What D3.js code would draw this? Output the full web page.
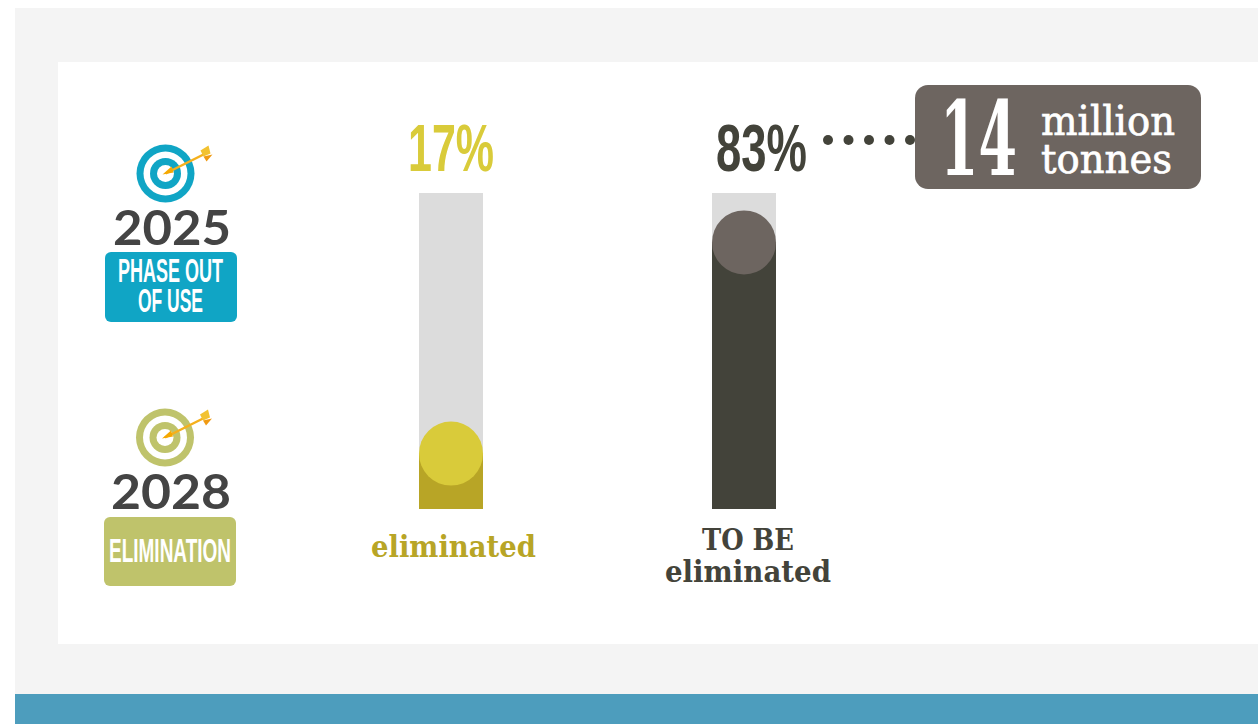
<!DOCTYPE html>
<html>
<head>
<meta charset="utf-8">
<script src="https://cdn.jsdelivr.net/npm/d3@7"></script>
<style>
  html, body { margin: 0; padding: 0; background: #fff; overflow: hidden; }
  svg { display: block; }
</style>
</head>
<body>
<script>
var categories = ["eliminated", "TO BE eliminated"];
var shares = [17, 83];
var shareLabels = ["17%", "83%"];
var targetYears = ["2025", "2028"];
var targetActions = [["PHASE OUT", "OF USE"], ["ELIMINATION"]];
var calloutValue = "14";
var calloutUnit = ["million", "tonnes"];

var narrow = "'Liberation Sans Narrow', 'Liberation Sans', sans-serif";
var slab = "'DejaVu Serif', serif";

var fillColors = ["#b8a526", "#43433a"];
var knobColors = ["#d9cb3a", "#6d6560"];
var targetColors = ["#10a5c5", "#bfc36b"];

var svg = d3.select("body").append("svg")
  .attr("width", 1258)
  .attr("height", 724);

// page panels
svg.append("rect").attr("x", 15).attr("y", 8).attr("width", 1243).attr("height", 686).attr("fill", "#f4f4f4");
svg.append("rect").attr("x", 58).attr("y", 62).attr("width", 1200).attr("height", 582).attr("fill", "#fff");
svg.append("rect").attr("x", 15).attr("y", 694).attr("width", 1243).attr("height", 30).attr("fill", "#4d9dbd");

function fitText(parent, str, x0, x1, baseline, size, font, weight, color, stroke) {
  return parent.append("text")
    .attr("x", x0)
    .attr("y", baseline)
    .attr("textLength", x1 - x0)
    .attr("lengthAdjust", "spacingAndGlyphs")
    .attr("font-family", font)
    .attr("font-size", size)
    .attr("font-weight", weight)
    .attr("fill", color)
    .attr("stroke", stroke ? color : "none")
    .attr("stroke-width", stroke || 0)
    .text(str);
}

// bars
var x = d3.scalePoint().domain(categories).range([451, 744]);
var y = d3.scaleLinear().domain([0, 100]).range([508, 188]);
var barTop = 193, barBottom = 509, barWidth = 64;

var bar = svg.selectAll(".bar")
  .data(categories)
  .enter()
  .append("g")
    .attr("class", "bar");

bar.append("rect")
  .attr("x", function(d) { return x(d) - barWidth / 2; })
  .attr("y", barTop)
  .attr("width", barWidth)
  .attr("height", barBottom - barTop)
  .attr("fill", "#dcdcdc");

bar.append("rect")
  .attr("x", function(d) { return x(d) - barWidth / 2; })
  .attr("y", function(d, i) { return y(shares[i]); })
  .attr("width", barWidth)
  .attr("height", function(d, i) { return barBottom - y(shares[i]); })
  .attr("fill", function(d, i) { return fillColors[i]; });

bar.append("circle")
  .attr("cx", function(d) { return x(d); })
  .attr("cy", function(d, i) { return y(shares[i]); })
  .attr("r", barWidth / 2)
  .attr("fill", function(d, i) { return knobColors[i]; });

// percent labels
fitText(svg, shareLabels[0], 408, 494, 171, 66, narrow, 700, knobColors[0]);
fitText(svg, shareLabels[1], 716, 807, 171, 66, narrow, 700, fillColors[1]);

// bar captions
fitText(svg, "eliminated", 371, 536, 557, 29, slab, 700, fillColors[0]);
fitText(svg, "TO BE", 702, 794, 550, 30, slab, 700, fillColors[1]);
fitText(svg, "eliminated", 665, 831, 582, 29, slab, 700, fillColors[1]);

// dotted leader
svg.selectAll(".leader")
  .data(d3.range(5))
  .enter()
  .append("circle")
    .attr("class", "leader")
    .attr("cx", function(d) { return 828 + d * 20.5; })
    .attr("cy", 140)
    .attr("r", 5)
    .attr("fill", fillColors[1]);

// callout
svg.append("rect")
  .attr("x", 915).attr("y", 85)
  .attr("width", 286).attr("height", 104)
  .attr("rx", 13)
  .attr("fill", knobColors[1]);
fitText(svg, calloutValue, 940, 1017, 175, 103, slab, 700, "#fff");
fitText(svg, calloutUnit[0], 1041, 1175, 135, 41, slab, 400, "#fff", 0.7);
fitText(svg, calloutUnit[1], 1041, 1172, 173, 41, slab, 400, "#fff", 0.7);

// target icons
function drawTarget(cx, cy, color) {
  var g = svg.append("g").attr("transform", "translate(" + cx + "," + cy + ")");
  [[29, color], [22, "#fff"], [15.5, color], [8.5, "#fff"]].forEach(function(ring) {
    g.append("circle").attr("r", ring[0]).attr("fill", ring[1]);
  });
  g.append("line")
    .attr("x1", 0).attr("y1", 0)
    .attr("x2", 38).attr("y2", -19)
    .attr("stroke", "#f5b01c")
    .attr("stroke-width", 2.5);
  g.append("path").attr("d", "M-3,1 L6,-7 L8,-1 Z").attr("fill", "#f5a800");
  g.append("path").attr("d", "M35,-23 L43,-28 L45,-20 L38,-17 Z").attr("fill", "#f2c230");
  g.append("path").attr("d", "M38,-17 L47,-19 L41,-12 Z").attr("fill", "#f09a12");
}
drawTarget(165.5, 173.5, targetColors[0]);
drawTarget(165, 437.5, targetColors[1]);

// year labels
fitText(svg, targetYears[0], 113, 231, 245, 48, "Lato, sans-serif", 700, "#444444");
fitText(svg, targetYears[1], 111, 231, 509, 48, "Lato, sans-serif", 700, "#444444");

// action badges
svg.append("rect").attr("x", 105).attr("y", 252).attr("width", 132).attr("height", 70).attr("rx", 6).attr("fill", targetColors[0]);
svg.append("rect").attr("x", 104).attr("y", 517).attr("width", 132).attr("height", 69).attr("rx", 6).attr("fill", targetColors[1]);
fitText(svg, targetActions[0][0], 118, 223, 282, 34, narrow, 700, "#fff");
fitText(svg, targetActions[0][1], 138, 203, 312, 34, narrow, 700, "#fff");
fitText(svg, targetActions[1][0], 109, 231, 562, 34, narrow, 700, "#fff");
</script>
</body>
</html>
